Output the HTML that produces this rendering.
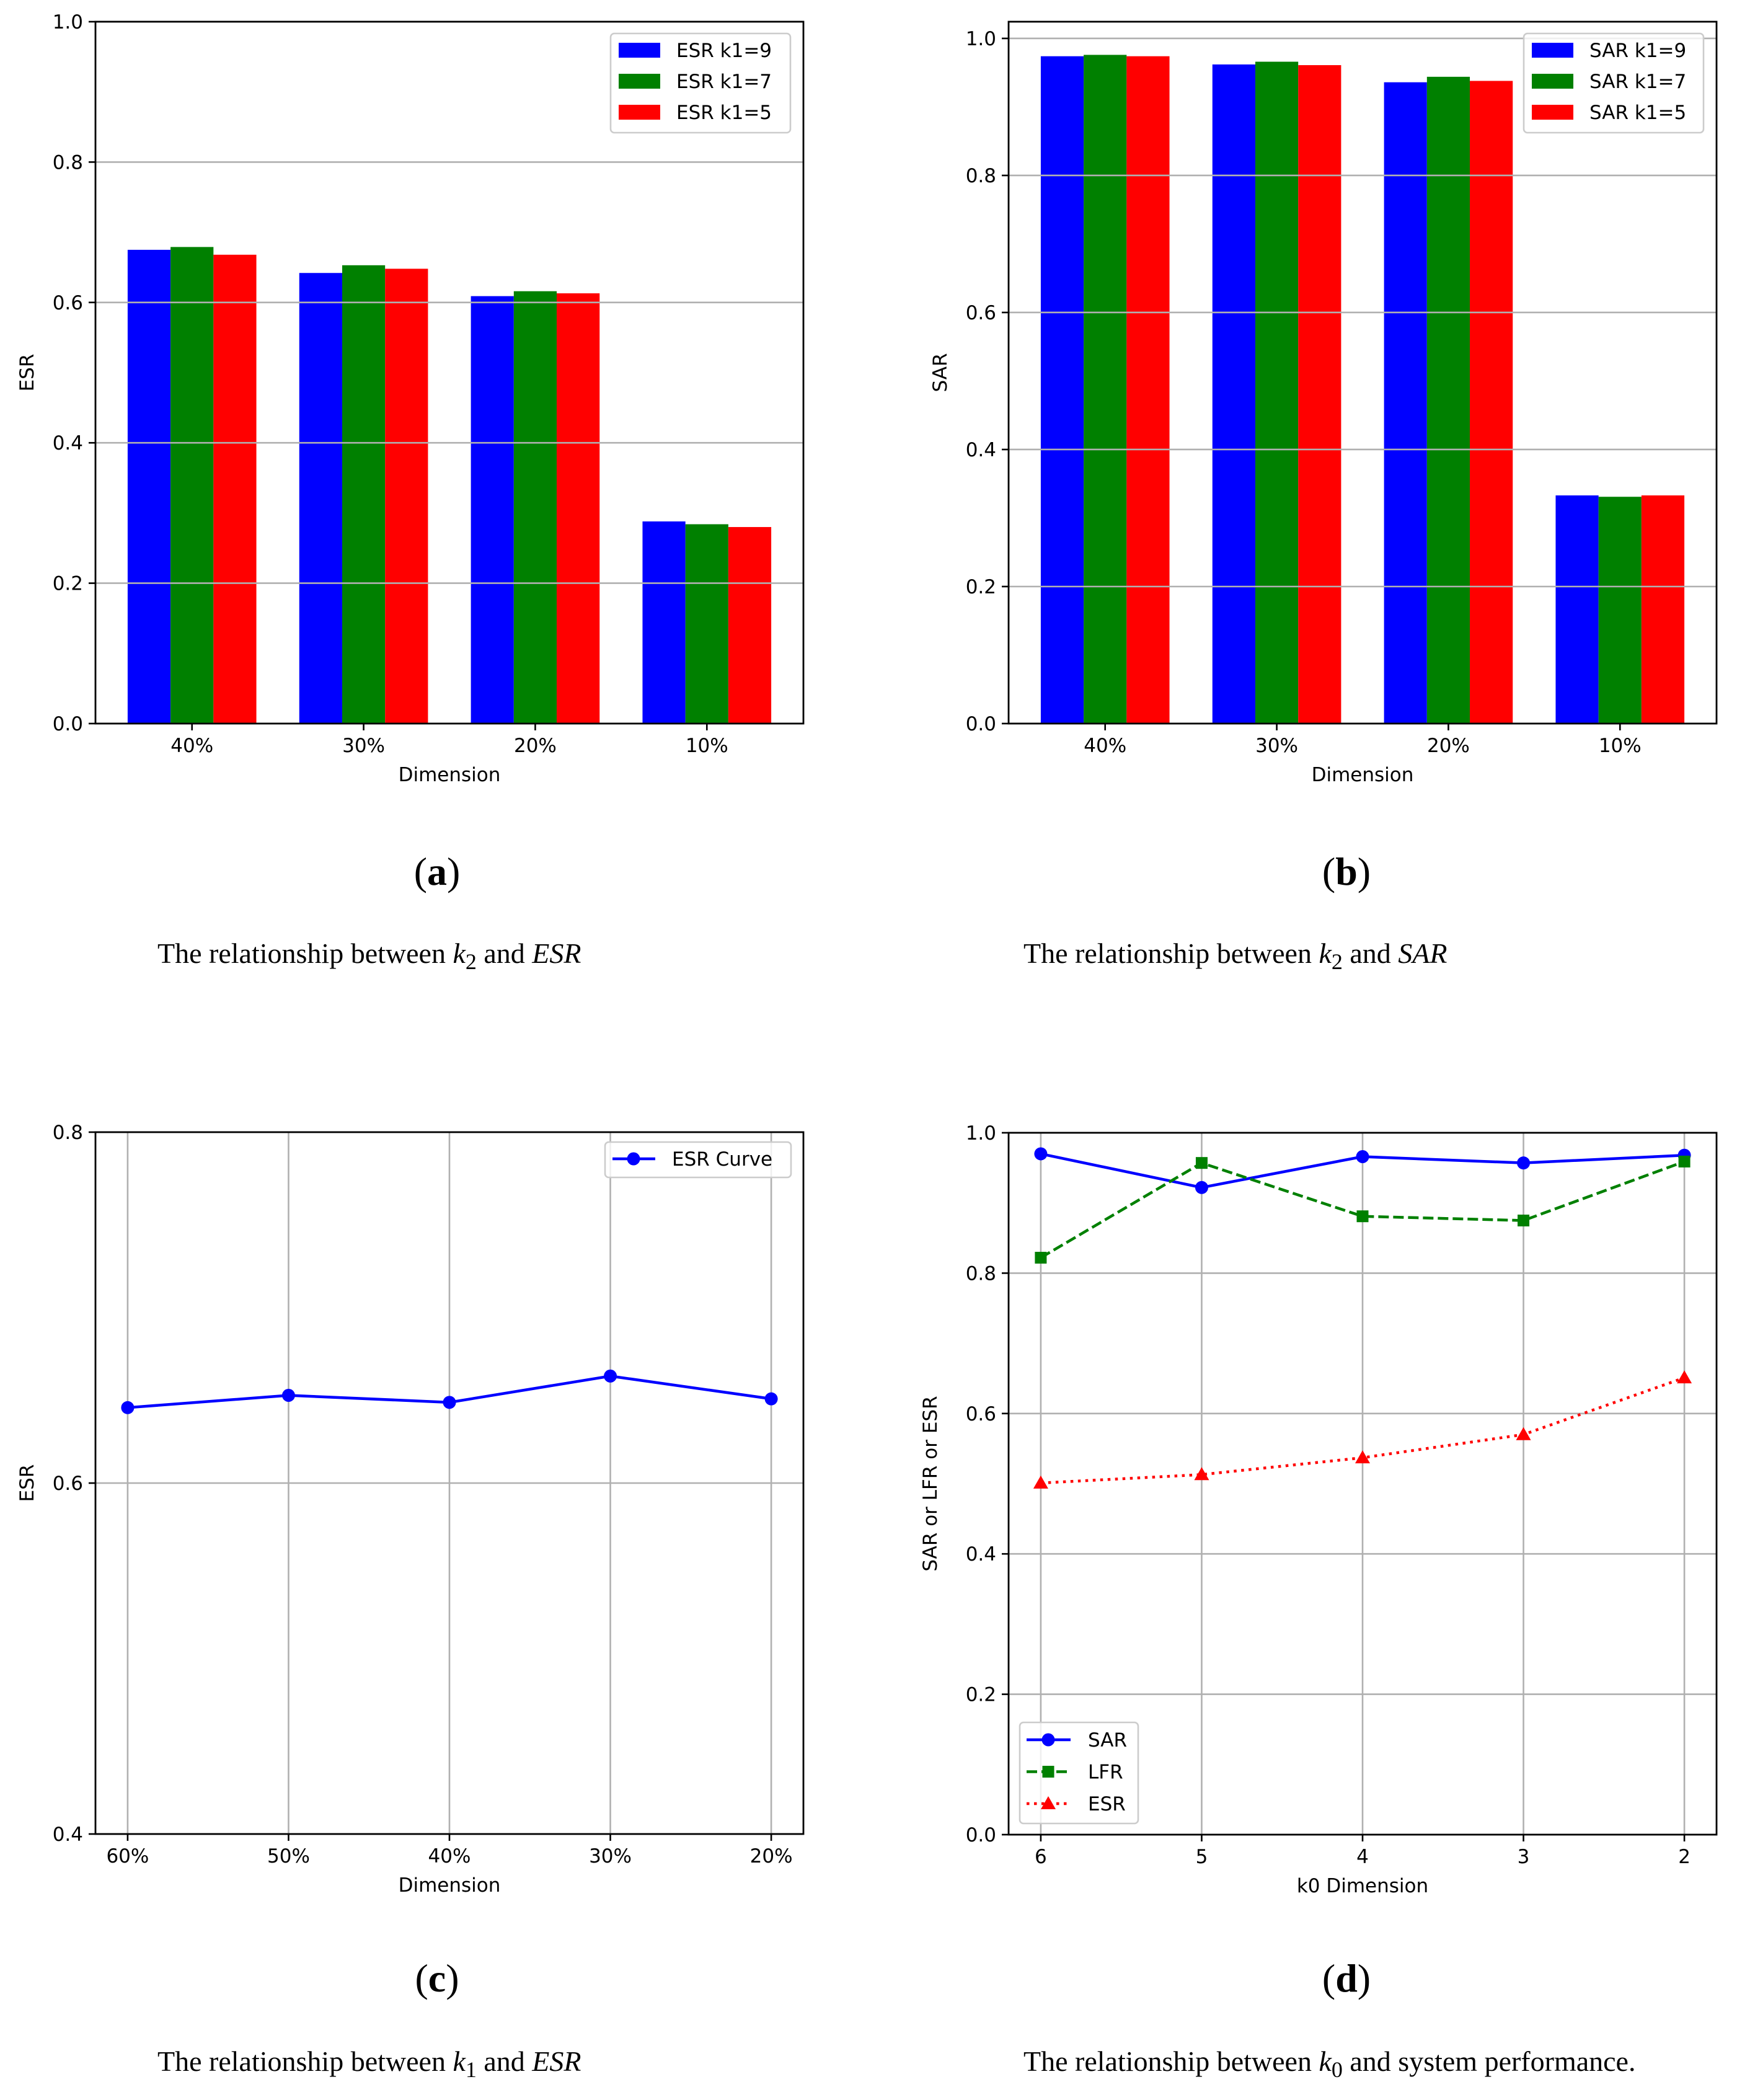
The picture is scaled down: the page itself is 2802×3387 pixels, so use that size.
<!DOCTYPE html>
<html><head><meta charset="utf-8">
<style>
html,body{margin:0;padding:0;background:#fff;}
svg{display:block;}
.t{font-family:"DejaVu Sans","Liberation Sans",sans-serif;font-size:31px;fill:#000;}
.cap{font-family:"Liberation Serif",serif;font-size:46px;fill:#000;}
.lab{font-family:"Liberation Serif",serif;font-size:64px;fill:#000;}
</style></head>
<body>
<svg id="root" width="2802" height="3387" viewBox="0 0 2802 3387" xmlns="http://www.w3.org/2000/svg">
<rect x="0" y="0" width="2802" height="3387" fill="#fff"/>
<g id="pa"></g>
<g id="pb"></g>
<g id="pc"></g>
<g id="pd"></g>

<text class="lab" x="705" y="1427" text-anchor="middle">(<tspan font-weight="bold">a</tspan>)</text>
<text class="cap" x="254" y="1553">The relationship between <tspan font-style="italic">k</tspan><tspan font-size="36" dy="10">2</tspan><tspan dy="-10"> and </tspan><tspan font-style="italic">ESR</tspan></text>
<text class="lab" x="2172" y="1427" text-anchor="middle">(<tspan font-weight="bold">b</tspan>)</text>
<text class="cap" x="1651" y="1553">The relationship between <tspan font-style="italic">k</tspan><tspan font-size="36" dy="10">2</tspan><tspan dy="-10"> and </tspan><tspan font-style="italic">SAR</tspan></text>
<text class="lab" x="705" y="3212" text-anchor="middle">(<tspan font-weight="bold">c</tspan>)</text>
<text class="cap" x="254" y="3340">The relationship between <tspan font-style="italic">k</tspan><tspan font-size="36" dy="10">1</tspan><tspan dy="-10"> and </tspan><tspan font-style="italic">ESR</tspan></text>
<text class="lab" x="2172" y="3212" text-anchor="middle">(<tspan font-weight="bold">d</tspan>)</text>
<text class="cap" x="1651" y="3340">The relationship between <tspan font-style="italic">k</tspan><tspan font-size="36" dy="10">0</tspan><tspan dy="-10"> and system performance.</tspan></text>
</svg>
<script>
// ---- data ----
const barCategories = ["40%","30%","20%","10%"];
const esrK9 = [0.675,0.642,0.609,0.288];
const esrK7 = [0.679,0.653,0.616,0.284];
const esrK5 = [0.668,0.648,0.613,0.280];
const sarK9 = [0.974,0.962,0.936,0.333];
const sarK7 = [0.976,0.966,0.944,0.331];
const sarK5 = [0.974,0.961,0.938,0.333];
const curveCategories = ["60%","50%","40%","30%","20%"];
const esrCurve = [0.643,0.650,0.646,0.661,0.648];
const k0Categories = ["6","5","4","3","2"];
const sarLine = [0.970,0.922,0.966,0.957,0.968];
const lfrLine = [0.822,0.957,0.881,0.875,0.959];
const esrLine = [0.501,0.513,0.537,0.570,0.651];
const ticksAB = ["0.0","0.2","0.4","0.6","0.8","1.0"];
const ticksC = ["0.4","0.6","0.8"];
const ticksD = ["0.0","0.2","0.4","0.6","0.8","1.0"];

const NS="http://www.w3.org/2000/svg";
function mk(parent,tag,attrs,text){
  const e=document.createElementNS(NS,tag);
  for(const k in attrs) e.setAttribute(k,attrs[k]);
  if(text!==undefined) e.textContent=text;
  parent.appendChild(e); return e;
}
const W=1142,H=1132;

function axesFrame(g,x0,y0,ymin,ymax,yTicks,xmin,xmax,xLabels,xLabel,yLabel,vgrid){
  const sx=v=>x0+(v-xmin)/(xmax-xmin)*W;
  const sy=v=>y0+H-(v-ymin)/(ymax-ymin)*H;
  return {sx,sy,finish(){
    yTicks.forEach(t=>{
      const v=parseFloat(t), y=sy(v);
      const gl=mk(g,'line',{x1:x0,x2:x0+W,y1:y,y2:y,stroke:'#b0b0b0','stroke-width':2.6});
      
      
      const tk=mk(g,'line',{x1:x0-11,x2:x0,y1:y,y2:y,stroke:'#000','stroke-width':2.6});
      
      
      const tl=mk(g,'text',{x:x0-20,y:y+11,'text-anchor':'end','class':'t'},t);
      
      
    });
    xLabels.forEach((t,i)=>{
      const x=sx(i);
      if(vgrid){
        const gl=mk(g,'line',{x1:x,x2:x,y1:y0,y2:y0+H,stroke:'#b0b0b0','stroke-width':2.6});
        
        
      }
      const tk=mk(g,'line',{x1:x,x2:x,y1:y0+H,y2:y0+H+11,stroke:'#000','stroke-width':2.6});
      
      
      const tl=mk(g,'text',{x:x,y:y0+H+46,'text-anchor':'middle','class':'t'},t);
      
      
    });
    const fr=mk(g,'rect',{x:x0,y:y0,width:W,height:H,fill:'none',stroke:'#000','stroke-width':2.8});
    
    
    const xl=mk(g,'text',{x:x0+W/2,y:y0+H+93,'text-anchor':'middle','class':'t'},xLabel);
    
    
    const yl=mk(g,'text',{x:0,y:0,'text-anchor':'middle','class':'t',transform:`translate(${x0-(yLabel.length>5?116:100)},${y0+H/2}) rotate(-90)`},yLabel);
    
    
  }};
}

function barChart(g,x0,y0,ymax,series,names,colors){
  const ax=axesFrame(g,x0,y0,0,ymax,ticksAB,-0.5625,3.5625,barCategories,'Dimension',names[0].split(' ')[0],false);
  const bw=0.25;
  series.forEach((s,si)=>{
    s.forEach((v,i)=>{
      const xl=ax.sx(i+(si-1)*bw-bw/2), xr=ax.sx(i+(si-1)*bw+bw/2);
      const b=mk(g,'rect',{x:xl,y:ax.sy(v),width:xr-xl,height:ax.sy(0)-ax.sy(v),fill:colors[si]});
      
      
    });
  });
  ax.finish();
  const lx=x0+W-311, ly=y0+19;
  const lg=mk(g,'g',{});
  
  
  mk(lg,'rect',{x:lx,y:ly,width:290,height:160,rx:6,fill:'#fff','fill-opacity':0.8,stroke:'#ccc','stroke-width':2.6});
  names.forEach((n,i)=>{
    const yy=ly+27+i*50;
    const e=mk(lg,'g',{});
    
    
    mk(e,'rect',{x:lx+13,y:yy-12,width:67,height:24,fill:colors[i]});
    mk(e,'text',{x:lx+106,y:yy+11,'class':'t'},n);
  });
}

function marker(g,type,x,y,color){
  let m;
  if(type==='o') m=mk(g,'circle',{cx:x,cy:y,r:10.5,fill:color});
  else if(type==='s') m=mk(g,'rect',{x:x-9.5,y:y-9.5,width:19,height:19,fill:color});
  else m=mk(g,'polygon',{points:`${x},${y-12} ${x+12},${y+9} ${x-12},${y+9}`,fill:color});
  
  
  return m;
}

function lineSeries(g,ax,vals,color,dash,mtype,name){
  const pts=vals.map((v,i)=>ax.sx(i)+','+ax.sy(v)).join(' ');
  const p=mk(g,'polyline',{points:pts,fill:'none',stroke:color,'stroke-width':4.5,'stroke-dasharray':dash||'none'});
  
  
  vals.forEach((v,i)=>marker(g,mtype,ax.sx(i),ax.sy(v),color));
}

barChart(document.getElementById('pa'),154,35,1.0,[esrK9,esrK7,esrK5],['ESR k1=9','ESR k1=7','ESR k1=5'],['#0000ff','#008000','#ff0000']);
barChart(document.getElementById('pb'),1627,35,1.0244,[sarK9,sarK7,sarK5],['SAR k1=9','SAR k1=7','SAR k1=5'],['#0000ff','#008000','#ff0000']);

(function(){
  const g=document.getElementById('pc');
  const ax=axesFrame(g,154,1826,0.4,0.8,ticksC,-0.2,4.2,curveCategories,'Dimension','ESR',true);
  ax.finish();
  lineSeries(g,ax,esrCurve,'#0000ff',null,'o','esr-curve');
  const lg=mk(g,'g',{});
  
  
  mk(lg,'rect',{x:976,y:1842,width:300,height:57,rx:6,fill:'#fff','fill-opacity':0.8,stroke:'#ccc','stroke-width':2.6});
  mk(lg,'line',{x1:988,x2:1057,y1:1869,y2:1869,stroke:'#0000ff','stroke-width':4.5});
  marker(lg,'o',1022,1869,'#0000ff');
  mk(lg,'text',{x:1084,y:1880,'class':'t'},'ESR Curve');
})();

(function(){
  const g=document.getElementById('pd');
  const ax=axesFrame(g,1627,1827,0,1,ticksD,-0.2,4.2,k0Categories,'k0 Dimension','SAR or LFR or ESR',true);
  ax.finish();
  lineSeries(g,ax,sarLine,'#0000ff',null,'o','sar');
  lineSeries(g,ax,lfrLine,'#008000','17 7','s','lfr');
  lineSeries(g,ax,esrLine,'#ff0000','4.5 7.5','^','esr');
  const lg=mk(g,'g',{});
  
  
  mk(lg,'rect',{x:1645,y:2778,width:191,height:163,rx:6,fill:'#fff','fill-opacity':0.8,stroke:'#ccc','stroke-width':2.6});
  const items=[['SAR','#0000ff',null,'o'],['LFR','#008000','17 7','s'],['ESR','#ff0000','4.5 7.5','^']];
  items.forEach((it,i)=>{
    const yy=2806+i*51.5;
    const e=mk(lg,'g',{});
    
    
    mk(e,'line',{x1:1656,x2:1727,y1:yy,y2:yy,stroke:it[1],'stroke-width':4.5,'stroke-dasharray':it[2]||'none'});
    marker(e,it[3],1691,yy,it[1]);
    mk(e,'text',{x:1755,y:yy+11,'class':'t'},it[0]);
  });
})();
</script>
</body></html>
